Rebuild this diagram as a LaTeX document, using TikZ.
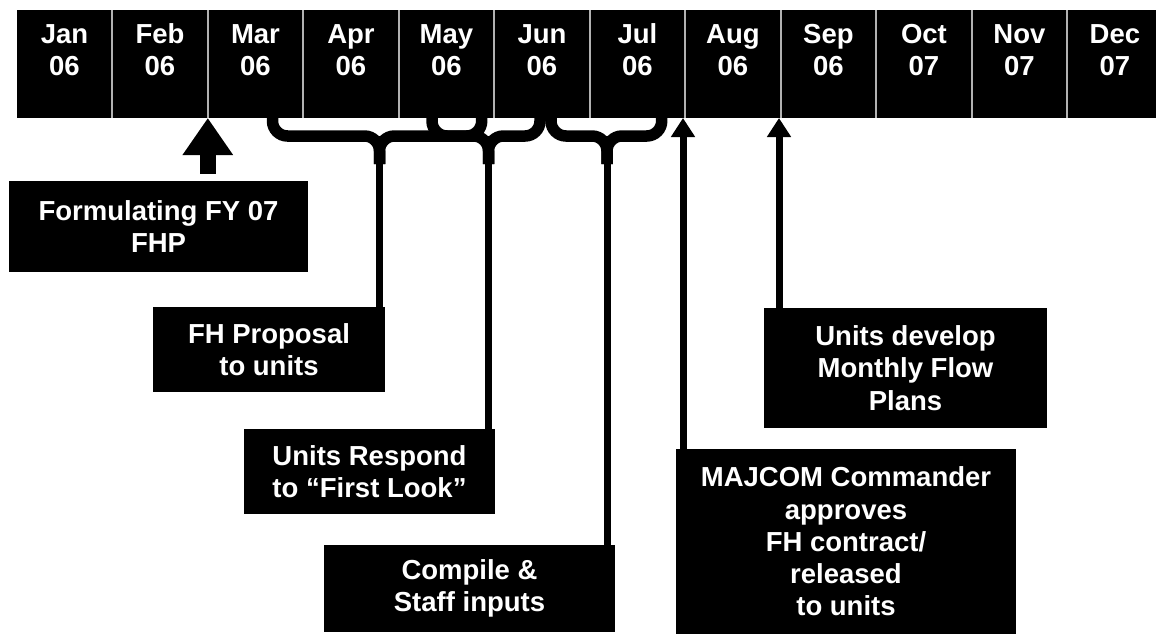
\documentclass[tikz,border=0pt]{standalone}
\usepackage{fontspec}
\setmainfont{Liberation Sans}
\usetikzlibrary{arrows.meta}

\begin{document}
\begin{tikzpicture}[x=1pt, y=-1pt,
    txt/.style={font=\bfseries\fontsize{27.5}{32.3}\selectfont, text=white, align=center, inner sep=0pt},
    month/.style={txt},
    evbox/.style={txt, fill=black},
    divider/.style={draw=gray!60, line width=1.7pt},
    brace/.style={line width=11.5pt, rounded corners=15pt},
    stem/.style={line width=7pt},
    bigarrow/.style={line width=16pt, -{Triangle[width=48pt, length=37pt]}},
    smallarrow/.style={line width=7pt, -{Triangle[width=23pt, length=19pt]}}]
  \useasboundingbox (0,0) rectangle (1156,635);

  % month bar
  \fill (16.7,10) rectangle (1156,118);
  \foreach \i in {1,...,11}
    \draw[divider] ({16.7+95.5*\i},10) -- ++(0,108);
  \foreach \mon/\yr [count=\i] in {Jan/06, Feb/06, Mar/06, Apr/06, May/06, Jun/06,
      Jul/06, Aug/06, Sep/06, Oct/07, Nov/07, Dec/07}
    \node[month] (m\i) at ({16.7+95.5*(\i-0.5)},50) {\mon\\\yr};

  % arrow targets and brace tips
  \coordinate (a2) at (207.8,118);
  \coordinate (a7) at (683,118);
  \coordinate (a8) at (779,118);
  \coordinate (t1) at (379.5,136);
  \coordinate (t2) at (488.5,136);
  \coordinate (t3) at (607,136);

  % event boxes
  \node[evbox, minimum width=299, minimum height=91] (form) at (158.5,226.5) {Formulating FY 07\\FHP};
  \node[evbox, minimum width=232, minimum height=85] (prop) at (269,349.5) {FH Proposal\\to units};
  \node[evbox, minimum width=251, minimum height=85] (resp) at (369.5,471.5) {Units Respond\\to “First Look”};
  \node[evbox, minimum width=291, minimum height=87] (comp) at (469.5,588.5) {Compile \&\\Staff inputs};
  \node[evbox, minimum width=340, minimum height=185] (maj) at (846,541.5) {MAJCOM Commander\\approves\\FH contract/\\released\\to units};
  \node[evbox, minimum width=283, minimum height=120] (flow) at (905.5,368) {Units develop\\Monthly Flow\\Plans};

  % braces
  \draw[brace] (272.5,112) |- (t1) -- ++(0,28);
  \draw[brace] (481.7,112) |- (t1) -- ++(0,28);
  \draw[brace] (432,112) |- (t2) -- ++(0,28);
  \draw[brace] (540,112) |- (t2) -- ++(0,28);
  \draw[brace] (551,112) |- (t3) -- ++(0,28);
  \draw[brace] (661.7,112) |- (t3) -- ++(0,28);

  \draw[stem] (t1) -- (prop.north -| t1);
  \draw[stem] (t2) -- (resp.north -| t2);
  \draw[stem] (t3) -- (comp.north -| t3);

  % arrows
  \draw[bigarrow] ([yshift=7pt]form.north -| a2) -- (a2);
  \draw[smallarrow] (maj.north -| a7) -- (a7);
  \draw[smallarrow] (flow.north -| a8) -- (a8);
\end{tikzpicture}
\end{document}
